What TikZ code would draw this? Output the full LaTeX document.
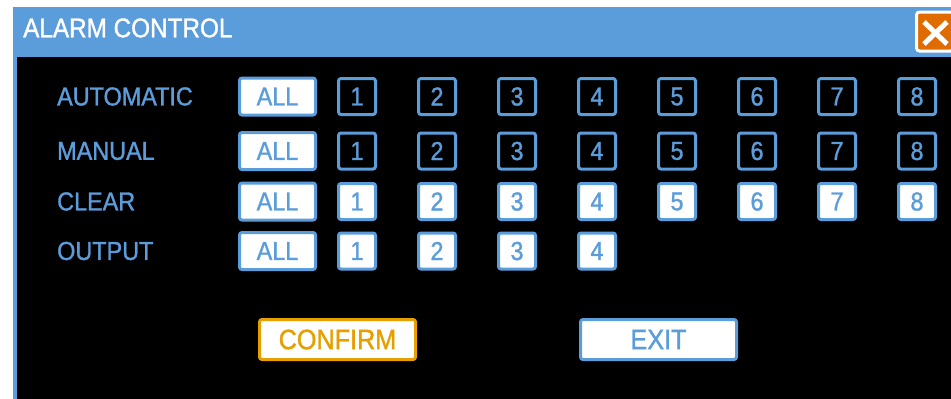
\documentclass[tikz,border=0pt]{standalone}
\usepackage{fontspec}
\newfontfamily\uifont[FakeStretch=0.9,FakeBold=1.2]{Liberation Sans}
\usetikzlibrary{positioning}
\definecolor{uiblue}{RGB}{91,157,219}
\definecolor{okorange}{RGB}{229,160,0}
\definecolor{xorange}{RGB}{224,108,0}
\tikzset{
    numbox/.style = {draw=uiblue, line width=3pt, rounded corners=2.5pt,
        fill=black, text=uiblue, inner sep=0pt,
        minimum width=37pt, minimum height=36pt,
        font=\uifont\fontsize{26pt}{26pt}\selectfont},
    numfill/.style = {numbox, fill=white},
    allbox/.style = {numfill, minimum width=76pt, minimum height=37pt},
    rowlabel/.style = {anchor=west, text=uiblue, inner sep=0pt,
        font=\uifont\fontsize{26pt}{26pt}\selectfont},
    button/.style = {draw=uiblue, fill=white, text=uiblue, line width=3pt,
        rounded corners=2.5pt, inner sep=0pt,
        minimum width=156pt, minimum height=40pt,
        font=\uifont\fontsize{28pt}{28pt}\selectfont}
}

\begin{document}
\begin{tikzpicture}[x=1pt, y=-1pt, node distance=80pt]
    \useasboundingbox (0,0) rectangle (951,399);
    \fill [white] (0,0) rectangle (951,399);
    % window frame and panel
    \fill [uiblue] (13,7) rectangle (951,399);
    \fill [black] (17,57) rectangle (951,399);
    \node [anchor=west, text=white, inner sep=0pt,
        font=\uifont\fontsize{27pt}{27pt}\selectfont] (title) at (23,28) {ALARM CONTROL};
    \node [draw=white, fill=xorange, line width=3pt, rounded corners=3pt,
        minimum width=37pt, minimum height=39pt] (close) at (935,31.5) {};
    \draw [white, line width=5pt] (924,22) -- (947,44) (947,22) -- (924,44);
    % AUTOMATIC
    \node [rowlabel] (lab-auto) at (57,96.5) {AUTOMATIC};
    \node [allbox] (auto-all) at (277.5,96.5) {ALL};
    \node [numbox] (auto-1) at (357,96.5) {1};
    \node [numbox, right of=auto-1] (auto-2) {2};
    \node [numbox, right of=auto-2] (auto-3) {3};
    \node [numbox, right of=auto-3] (auto-4) {4};
    \node [numbox, right of=auto-4] (auto-5) {5};
    \node [numbox, right of=auto-5] (auto-6) {6};
    \node [numbox, right of=auto-6] (auto-7) {7};
    \node [numbox, right of=auto-7] (auto-8) {8};
    % MANUAL
    \node [rowlabel] (lab-man) at (57,151) {MANUAL};
    \node [allbox] (man-all) at (277.5,151) {ALL};
    \node [numbox] (man-1) at (357,151) {1};
    \node [numbox, right of=man-1] (man-2) {2};
    \node [numbox, right of=man-2] (man-3) {3};
    \node [numbox, right of=man-3] (man-4) {4};
    \node [numbox, right of=man-4] (man-5) {5};
    \node [numbox, right of=man-5] (man-6) {6};
    \node [numbox, right of=man-6] (man-7) {7};
    \node [numbox, right of=man-7] (man-8) {8};
    % CLEAR
    \node [rowlabel] (lab-clr) at (57,201.5) {CLEAR};
    \node [allbox] (clr-all) at (277.5,201.5) {ALL};
    \node [numfill] (clr-1) at (357,201.5) {1};
    \node [numfill, right of=clr-1] (clr-2) {2};
    \node [numfill, right of=clr-2] (clr-3) {3};
    \node [numfill, right of=clr-3] (clr-4) {4};
    \node [numfill, right of=clr-4] (clr-5) {5};
    \node [numfill, right of=clr-5] (clr-6) {6};
    \node [numfill, right of=clr-6] (clr-7) {7};
    \node [numfill, right of=clr-7] (clr-8) {8};
    % OUTPUT
    \node [rowlabel] (lab-out) at (57,251) {OUTPUT};
    \node [allbox] (out-all) at (277.5,251) {ALL};
    \node [numfill] (out-1) at (357,251) {1};
    \node [numfill, right of=out-1] (out-2) {2};
    \node [numfill, right of=out-2] (out-3) {3};
    \node [numfill, right of=out-3] (out-4) {4};
    % buttons
    \node [button, draw=okorange, text=okorange] (confirm) at (337.5,339.5) {CONFIRM};
    \node [button] (exit) at (658.5,339.5) {EXIT};
\end{tikzpicture}
\end{document}
